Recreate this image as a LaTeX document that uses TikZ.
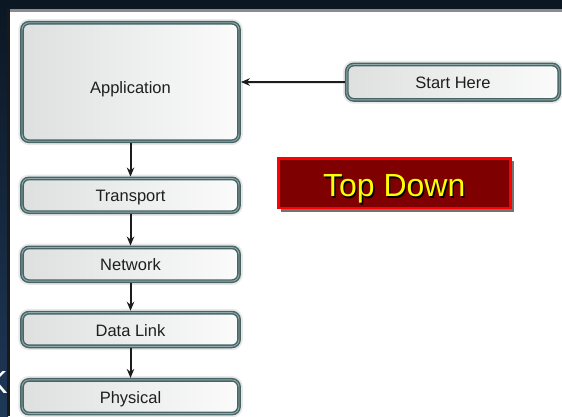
\documentclass[tikz,border=0pt]{standalone}
\usepackage{fontspec}
\setmainfont{Liberation Sans}
\usetikzlibrary{arrows.meta}

\definecolor{framedark}{HTML}{0C1724}
\definecolor{frameblue}{HTML}{1E3858}
\definecolor{edgeline}{HTML}{486465}
\definecolor{edgehi}{HTML}{8FAAAA}
\definecolor{boxleft}{HTML}{DEE0E0}
\definecolor{boxright}{HTML}{FBFBFB}
\definecolor{inktext}{HTML}{1E1E1E}
\definecolor{arrowink}{HTML}{1C1C1C}
\definecolor{bannerfill}{HTML}{7F0000}
\definecolor{bannerline}{HTML}{FF0000}
\definecolor{bannertext}{HTML}{FFFF00}

\tikzset{
  layer/.style={
    rectangle, rounded corners=7pt, inner sep=0pt,
    draw=edgeline, line width=3.8pt,
    left color=boxleft, right color=boxright,
    preaction={draw=black!9, line width=7.5pt},
    postaction={draw=edgehi, line width=0.9pt},
    font=\fontsize{16.5}{18}\selectfont, text=inktext,
    text height=13pt, text depth=0pt,
    minimum width=217pt, minimum height=33.7pt},
  flow/.style={draw=arrowink, line width=2pt,
    -{Stealth[length=9pt,width=7.5pt]}},
  banner/.style={rectangle, draw=bannerline, line width=2.5pt,
    fill=bannerfill, minimum width=232pt, minimum height=49.5pt},
  bannerword/.style={font=\fontsize{32}{36}\selectfont, inner sep=0pt,
    anchor=base}
}

\begin{document}
\begin{tikzpicture}[x=1pt, y=-1pt]
  \useasboundingbox (0,0) rectangle (562,416);
  \clip (0,0) rectangle (562,416);

  % page and dark frame
  \fill[white] (0,0) rectangle (562,416);
  \fill[framedark] (0,0) rectangle (562,9);
  \shade[top color=framedark, bottom color=frameblue] (0,9) rectangle (8,416);
  \fill[black!45] (8,9) rectangle (562,11.5);
  \fill[black!90] (7,9) rectangle (10,416);
  \begin{scope}
    \clip (0,0) rectangle (7,416);
    \node[font=\fontsize{32}{36}\selectfont, text=white, inner sep=0pt,
      anchor=base east] (edgek) at (8,393) {K};
  \end{scope}

  % layer stack
  \node[layer, minimum height=118.5pt, text height=22.6pt] (app) at (130.5,82) {Application};
  \node[layer] (transport) at (130.5,195.3) {Transport};
  \node[layer] (network) at (130.5,264.3) {Network};
  \node[layer] (datalink) at (130.5,329.5) {Data Link};
  \node[layer] (physical) at (130.5,396.7) {Physical};

  % entry point
  \node[layer, minimum width=212.4pt, minimum height=35.4pt] (start) at (453,82.2) {Start Here};

  % connectors
  \draw[flow] (start.west) -- (app.east);
  \draw[flow] (app.south) -- (transport.north);
  \draw[flow] (transport.south) -- (network.north);
  \draw[flow] (network.south) -- (datalink.north);
  \draw[flow] (datalink.south) -- (physical.north);

  % banner
  \fill[black!55] (280.5,160.5) rectangle (514,212);
  \node[banner] (topdown) at (394.5,183.3) {};
  \node[bannerword, text=black] (topdownshadow) at (395.6,198) {Top Down};
  \node[bannerword, text=bannertext] (topdownword) at (394.3,196.7) {Top Down};
\end{tikzpicture}
\end{document}
